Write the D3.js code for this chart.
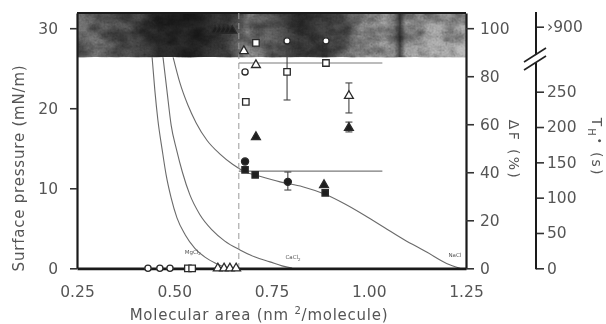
<!DOCTYPE html>
<html><head><meta charset="utf-8">
<script src="https://cdn.jsdelivr.net/npm/d3@7"></script>
<style>
body{margin:0;background:#fff}
svg{display:block;background:#fff}
text{font-family:"DejaVu Sans",sans-serif;fill:#555}
</style></head><body>
<svg id="c" width="606" height="324"></svg>
<script>
// ---------- data ----------
const xTickValues = [0.25, 0.5, 0.75, 1.0, 1.25];
const xTickLabels = ["0.25", "0.50", "0.75", "1.00", "1.25"];
const pTickValues = [0, 10, 20, 30];
const dfTickValues = [0, 20, 40, 60, 80, 100];
const thTickValues = [0, 50, 100, 150, 200, 250, 900];
const thTickLabels = ["0", "50", "100", "150", "200", "250", "›900"];

// isotherms: molecular area (nm2/molecule) vs surface pressure (mN/m)
const mgArea = [0.443,0.450,0.458,0.469,0.479,0.492,0.507,0.528,0.553,0.579,0.605,0.630,0.648];
const mgP    = [26.4, 22.3, 18.5, 14.8, 11.7, 8.8,  6.3,  4.2,  2.5,  1.4,  0.66, 0.16, 0.03];
const caArea = [0.471,0.481,0.492,0.506,0.521,0.540,0.566,0.597,0.630,0.669,0.708,0.746,0.777,0.803];
const caP    = [26.4, 22.3, 17.9, 14.8, 12.0, 9.2,  6.7,  4.8,  3.4,  2.3,  1.4,  0.8,  0.3,  0.03];
const naArea = [0.497,0.515,0.535,0.556,0.584,0.617,0.650,0.680,0.720,0.772,0.830,0.888,0.940,0.990,1.040,1.090,1.150,1.200,1.235];
const naP    = [26.4, 23.1, 20.4, 18.2, 16.0, 14.3, 13.0, 12.1, 11.5, 10.8, 10.2, 9.25, 8.0,  6.6,  5.1,  3.6,  2.0,  0.6,  0.0];
const curveLabels = ["MgCl", "CaCl", "NaCl"];

// ΔF (%) markers
const openCircleArea = [0.4325, 0.463, 0.489, 0.682, 0.790, 0.890];
const openCircleDF   = [0, 0, 0, 81.8, 94.7, 94.7];
const openSquareArea = [0.535, 0.546, 0.710, 0.684, 0.790, 0.890];
const openSquareDF   = [0, 0, 93.9, 69.3, 81.8, 85.5];
const openTriArea    = [0.612, 0.628, 0.643, 0.659, 0.679, 0.710, 0.949];
const openTriDF      = [0, 0, 0, 0, 90.5, 84.7, 71.8];
const filledTriArea  = [0.605, 0.616, 0.627, 0.638, 0.649, 0.710, 0.885, 0.949];
const filledTriDF    = [99, 99, 99, 99, 99, 54.7, 34.7, 58.5];
const filledSqArea   = [0.682, 0.708, 0.888];
const filledSqDF     = [41.0, 38.9, 31.4];
const filledCircArea = [0.682, 0.792];
const filledCircDF   = [44.5, 36.0];
const errArea = [0.790, 0.949, 0.949, 0.792];
const errLo   = [70.1, 64.7, 56.8, 32.6];
const errHi   = [92.2, 77.2, 60.9, 40.1];
const plateauArea = [0.666, 1.035];
const plateauHighDF = 85.5;
const plateauLowDF = 40.5;
const dashedArea = 0.666;
const bandBottomP = 26.4;

// ---------- scales ----------
const svg = d3.select("#c");
const x  = d3.scaleLinear().domain([0.25, 1.25]).range([77, 466]);
const yP = d3.scaleLinear().domain([0, 31.9]).range([268.3, 13]);
const yF = d3.scaleLinear().domain([0, 106.33]).range([268.3, 13]);
const yT = d3.scaleLinear().domain([0, 250, 900]).range([268.3, 91.7, 26.7]);

const defs = svg.append("defs");
const grad = defs.append("linearGradient").attr("id","band").attr("gradientUnits","userSpaceOnUse")
  .attr("x1",77).attr("x2",466).attr("y1",0).attr("y2",0);
[[0,"#707070"],[0.08,"#5e5e5e"],[0.16,"#4a4a4a"],[0.21,"#262626"],[0.32,"#262626"],[0.39,"#404040"],
 [0.44,"#7a7a7a"],[0.5,"#5a5a5a"],[0.57,"#343434"],[0.65,"#444"],[0.72,"#7c7c7c"],[0.79,"#9c9c9c"],
 [0.815,"#888"],[0.83,"#3a3a3a"],[0.845,"#8a8a8a"],[0.93,"#aaaaaa"],[1,"#b4b4b4"]]
 .forEach(([o,c]) => grad.append("stop").attr("offset",o).attr("stop-color",c));
const vg = defs.append("linearGradient").attr("id","bandv").attr("x1",0).attr("x2",0).attr("y1",0).attr("y2",1);
vg.append("stop").attr("offset",0).attr("stop-color","#000").attr("stop-opacity",0.2);
vg.append("stop").attr("offset",1).attr("stop-color","#000").attr("stop-opacity",0.05);
// coarse blotches (dark, alpha from noise)
const f1 = defs.append("filter").attr("id","blotch").attr("x",0).attr("y",0).attr("width",1).attr("height",1);
f1.append("feTurbulence").attr("type","fractalNoise").attr("baseFrequency","0.045 0.07").attr("numOctaves",3).attr("seed",9);
f1.append("feColorMatrix").attr("type","matrix")
 .attr("values","0 0 0 0 0  0 0 0 0 0  0 0 0 0 0  1.8 0 0 0 -0.6");
// fine grain
const f2 = defs.append("filter").attr("id","grain").attr("x",0).attr("y",0).attr("width",1).attr("height",1);
f2.append("feTurbulence").attr("type","fractalNoise").attr("baseFrequency","0.5 0.5").attr("numOctaves",2).attr("seed",3);
f2.append("feColorMatrix").attr("type","matrix")
 .attr("values","0.33 0.33 0.33 0 0  0.33 0.33 0.33 0 0  0.33 0.33 0.33 0 0  0 0 0 0 1");

// ---------- curves ----------
const line = d3.line().x(d => x(d[0])).y(d => yP(d[1])).curve(d3.curveMonotoneX);
[[mgArea,mgP],[caArea,caP],[naArea,naP]].forEach(([a,p]) => {
  svg.append("path").attr("d", line(a.map((v,i)=>[v,p[i]])))
    .attr("fill","none").attr("stroke","#6a6a6a").attr("stroke-width",1.1);
});

// ---------- band ----------
const bandTop = yP(31.9), bandBot = yP(bandBottomP);
const bx = x(0.25), bw = x(1.25)-x(0.25), bh = bandBot-bandTop;
svg.append("rect").attr("x",bx).attr("y",bandTop).attr("width",bw).attr("height",bh).attr("fill","url(#band)");
svg.append("rect").attr("x",bx).attr("y",bandTop).attr("width",bw).attr("height",bh).attr("fill","url(#bandv)");
svg.append("rect").attr("x",bx).attr("y",bandTop).attr("width",bw).attr("height",bh)
  .attr("filter","url(#blotch)").attr("opacity",0.55);
svg.append("rect").attr("x",bx).attr("y",bandTop).attr("width",bw).attr("height",bh)
  .attr("filter","url(#grain)").style("mix-blend-mode","overlay").attr("opacity",0.5);

// top border
svg.append("line").attr("x1",x(0.25)).attr("x2",x(1.25)).attr("y1",bandTop).attr("y2",bandTop)
  .attr("stroke","#1a1a1a").attr("stroke-width",2.2);

// dashed vertical line
svg.append("line").attr("x1",x(dashedArea)).attr("x2",x(dashedArea)).attr("y1",bandTop).attr("y2",yF(0))
  .attr("stroke","#9a9a9a").attr("stroke-width",1).attr("stroke-dasharray","6,4");

// plateau lines
[plateauHighDF, plateauLowDF].forEach(v => {
  svg.append("line").attr("x1",x(plateauArea[0])).attr("x2",x(plateauArea[1]))
    .attr("y1",yF(v)).attr("y2",yF(v)).attr("stroke","#7a7a7a").attr("stroke-width",1.2);
});

// error bars
errArea.forEach((a,i) => {
  const g = svg.append("g").attr("stroke","#444").attr("stroke-width",1.1);
  g.append("line").attr("x1",x(a)).attr("x2",x(a)).attr("y1",yF(errLo[i])).attr("y2",yF(errHi[i]));
  [errLo[i],errHi[i]].forEach(v => g.append("line").attr("x1",x(a)-3.5).attr("x2",x(a)+3.5).attr("y1",yF(v)).attr("y2",yF(v)));
});

// ---------- axes ----------
function styleAxis(g, domainW){
  g.selectAll(".tick line").attr("stroke","#333").attr("stroke-width",1.6);
  g.selectAll(".tick text").style("font-size","15.5px").attr("fill","#555");
  g.select(".domain").attr("stroke","#1a1a1a").attr("stroke-width",domainW);
}
const gL = svg.append("g").attr("transform","translate(77,0)")
  .call(d3.axisLeft(yP).tickValues(pTickValues).tickSize(7).tickPadding(12).tickSizeOuter(0));
styleAxis(gL, 2.2);
const gB = svg.append("g").attr("transform","translate(0,268.3)")
  .call(d3.axisBottom(x).tickValues(xTickValues).tickFormat((d,i)=>xTickLabels[i]).tickSize(0).tickPadding(18).tickSizeOuter(0));
styleAxis(gB, 2.8);
const gR = svg.append("g").attr("transform","translate(466,0)")
  .call(d3.axisRight(yF).tickValues(dfTickValues).tickSize(8).tickPadding(6).tickSizeOuter(0));
styleAxis(gR, 2.2);
const gT = svg.append("g").attr("transform","translate(536,0)")
  .call(d3.axisRight(yT).tickValues(thTickValues).tickFormat((d,i)=>thTickLabels[i]).tickSize(8).tickPadding(3).tickSizeOuter(0));
styleAxis(gT, 2);
gT.select(".domain").remove();
gT.append("line").attr("x1",0).attr("x2",0).attr("y1",12).attr("y2",55).attr("stroke","#1a1a1a").attr("stroke-width",2);
gT.append("line").attr("x1",0).attr("x2",0).attr("y1",63).attr("y2",yT(0)+1).attr("stroke","#1a1a1a").attr("stroke-width",2);
[0,8].forEach(dy => {
  gT.append("line").attr("x1",-12).attr("x2",10).attr("y1",62+dy).attr("y2",48+dy).attr("stroke","#222").attr("stroke-width",1.6);
});

// ---------- markers ----------
function markers(area, vals, type, size, filled){
  const sym = d3.symbol().type(type).size(size);
  svg.append("g").selectAll("path").data(area.map((a,i)=>[a,vals[i]])).join("path")
    .attr("d", sym).attr("transform", d => `translate(${x(d[0])},${yF(d[1])})`)
    .attr("fill", filled ? "#1e1e1e" : "#fff").attr("stroke","#2a2a2a").attr("stroke-width",1.3);
}
markers(openCircleArea, openCircleDF, d3.symbolCircle, 30, false);
markers(openSquareArea, openSquareDF, d3.symbolSquare, 42, false);
markers(openTriArea, openTriDF, d3.symbolTriangle, 34, false);
markers(filledTriArea, filledTriDF, d3.symbolTriangle, 34, true);
markers(filledSqArea, filledSqDF, d3.symbolSquare, 40, true);
markers(filledCircArea, filledCircDF, d3.symbolCircle, 40, true);

// ---------- titles ----------
function fit(t, target){
  const n = t.text().length;
  const len = t.node().getComputedTextLength();
  t.attr("letter-spacing", ((target-len)/Math.max(1,n-1)).toFixed(2));
}
const tL = svg.append("text").attr("transform","translate(24,168) rotate(-90)").attr("text-anchor","middle")
  .style("font-size","15px").text("Surface pressure (mN/m)");
fit(tL, 206);
const tB = svg.append("text").attr("x",259).attr("y",320).attr("text-anchor","middle").style("font-size","15px");
tB.append("tspan").text("Molecular area (nm ");
tB.append("tspan").attr("dy",-6).style("font-size","10px").text("2");
tB.append("tspan").attr("dy",6).text("/molecule)");
fit(tB, 258);
const tF = svg.append("text").attr("transform","translate(509,150) rotate(90)").attr("text-anchor","middle")
  .style("font-size","14px").text("ΔF (%)");
fit(tF, 58);
const tT = svg.append("text").attr("transform","translate(592,147) rotate(90)").attr("text-anchor","middle")
  .style("font-size","14px");
tT.append("tspan").text("T");
tT.append("tspan").attr("dy",4).style("font-size","10px").text("H");
tT.append("tspan").attr("dy",-8).style("font-size","10px").text("•");
tT.append("tspan").attr("dy",4).text(" (s)");
tT.attr("letter-spacing",2);

// curve labels
const clPos = [[0.527,253.5],[0.786,259],[1.205,257]];
curveLabels.forEach((s,i) => {
  const t = svg.append("text").attr("x",x(clPos[i][0])).attr("y",clPos[i][1]).style("font-size","5.5px").attr("fill","#777");
  t.append("tspan").text(s);
  if (i < 2) t.append("tspan").attr("dy",1.5).style("font-size","4px").text("2");
});
</script>
</body></html>
